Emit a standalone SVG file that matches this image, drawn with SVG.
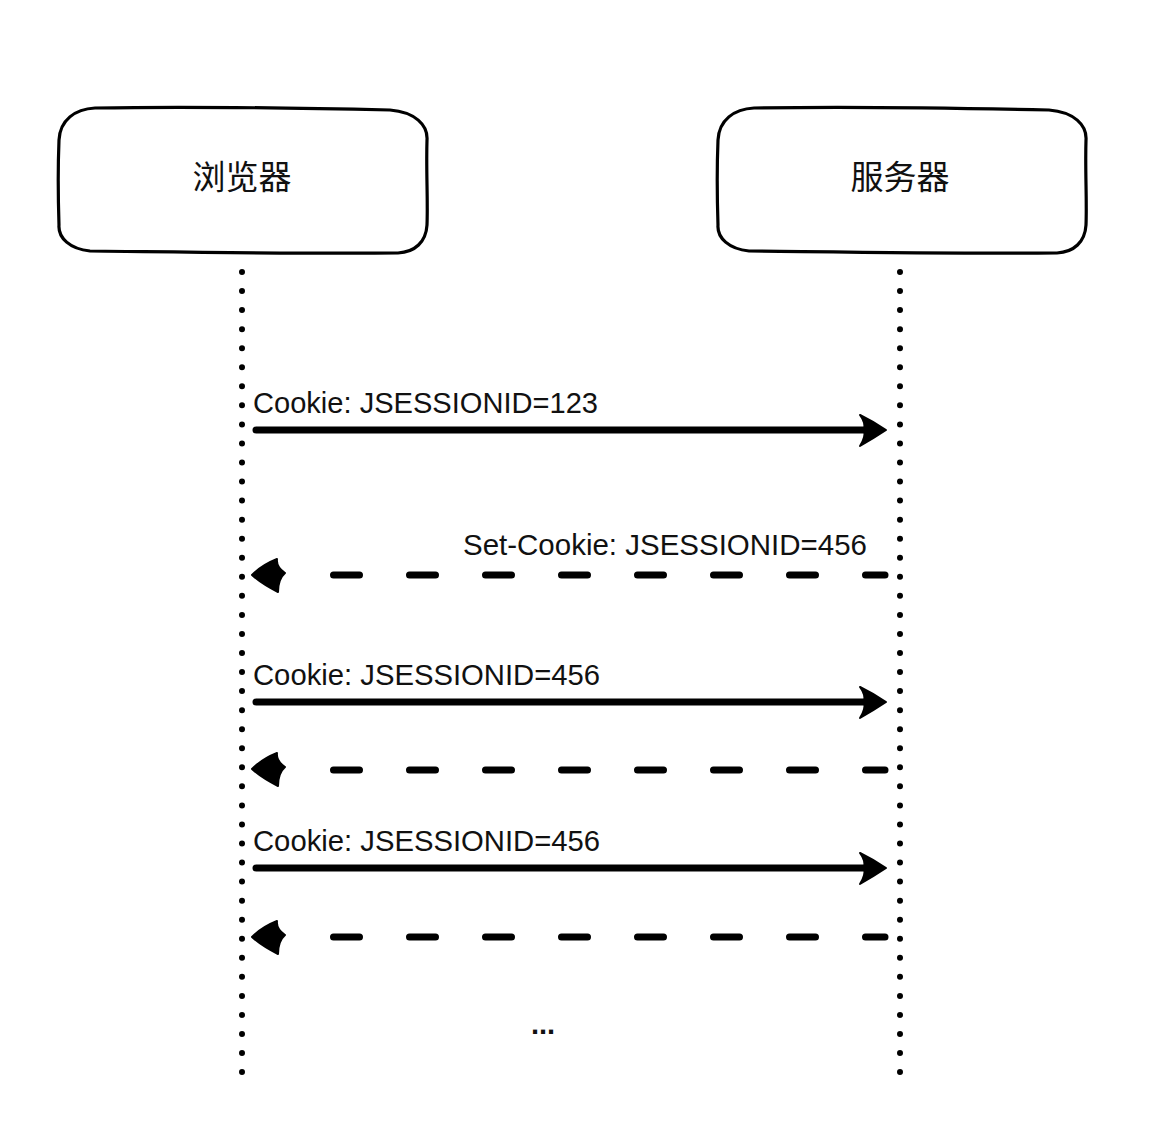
<svg xmlns="http://www.w3.org/2000/svg" width="1174" height="1146" viewBox="0 0 1174 1146">
<style>
.box{fill:#fff;stroke:#000;stroke-width:3.2;stroke-linejoin:round}
.title{font-family:"Noto Sans CJK SC","Noto Sans",sans-serif;font-size:33px;fill:#111;text-anchor:middle}
.life{stroke:#000;stroke-width:6;stroke-linecap:round;stroke-dasharray:0 19.05;fill:none}
.solid{stroke:#000;stroke-width:7;stroke-linecap:round;fill:none}
.dash{stroke:#000;stroke-width:7;stroke-linecap:round;stroke-dasharray:26 50;fill:none}
.head{fill:#000;stroke:#000;stroke-width:2;stroke-linejoin:round}
.lbl{font-family:"Liberation Sans","DejaVu Sans",sans-serif;font-size:29px;fill:#111}
</style>
<rect width="1174" height="1146" fill="#fff"/>
<g id="browser">
<path class="box" d="M95 108 C200 106 300 108 390 110 C415 112 428 125 427 140 C426 170 428 200 427 225 C426 242 415 252 398 253 C300 254 180 252 90 251 C70 249 58 238 59 225 C58 195 58 165 59 140 C60 120 75 109 95 108 Z"/>
<text class="title" x="242" y="189">浏览器</text>
</g>
<g id="server">
<path class="box" d="M754 108 C859 106 959 108 1049 110 C1074 112 1087 125 1086 140 C1085 170 1087 200 1086 225 C1085 242 1074 252 1057 253 C959 254 839 252 749 251 C729 249 717 238 718 225 C717 195 717 165 718 140 C719 120 734 109 754 108 Z"/>
<text class="title" x="900" y="189">服务器</text>
</g>
<g id="connectors">
<line class="life" x1="242" y1="272" x2="242" y2="1074"/>
<line class="life" x1="900" y1="272" x2="900" y2="1074"/>

<line class="solid" x1="256" y1="430" x2="868" y2="430"/>
<path class="head" d="M886 430 Q874 422 860 415 Q866 423 864 430 Q866 437 860 446 Q874 438 886 430 Z"/>
<text class="lbl" x="253" y="413" textLength="345" lengthAdjust="spacingAndGlyphs">Cookie: JSESSIONID=123</text>

<line class="dash" x1="333.5" y1="575" x2="885" y2="575"/>
<path class="head" d="M252 575 Q262 565 277 559 Q276 567 285 573 Q278 579 278 592 Q262 584 252 575 Z"/>
<text class="lbl" x="463" y="555" textLength="404" lengthAdjust="spacingAndGlyphs">Set-Cookie: JSESSIONID=456</text>

<line class="solid" x1="256" y1="702" x2="868" y2="702"/>
<path class="head" d="M886 702 Q874 694 860 687 Q866 695 864 702 Q866 709 860 718 Q874 710 886 702 Z"/>
<text class="lbl" x="253" y="685" textLength="347" lengthAdjust="spacingAndGlyphs">Cookie: JSESSIONID=456</text>

<line class="dash" x1="333.5" y1="770" x2="885" y2="770"/>
<path class="head" d="M252 769 Q262 759 277 753 Q276 761 285 767 Q278 773 278 786 Q262 778 252 769 Z"/>

<line class="solid" x1="256" y1="868" x2="868" y2="868"/>
<path class="head" d="M886 868 Q874 860 860 853 Q866 861 864 868 Q866 875 860 884 Q874 876 886 868 Z"/>
<text class="lbl" x="253" y="851" textLength="347" lengthAdjust="spacingAndGlyphs">Cookie: JSESSIONID=456</text>

<line class="dash" x1="333.5" y1="937" x2="885" y2="937"/>
<path class="head" d="M252 937 Q262 927 277 921 Q276 929 285 935 Q278 941 278 954 Q262 946 252 937 Z"/>
</g>
<text class="lbl" x="543" y="1034" text-anchor="middle" font-size="24" font-weight="bold">...</text>
</svg>
